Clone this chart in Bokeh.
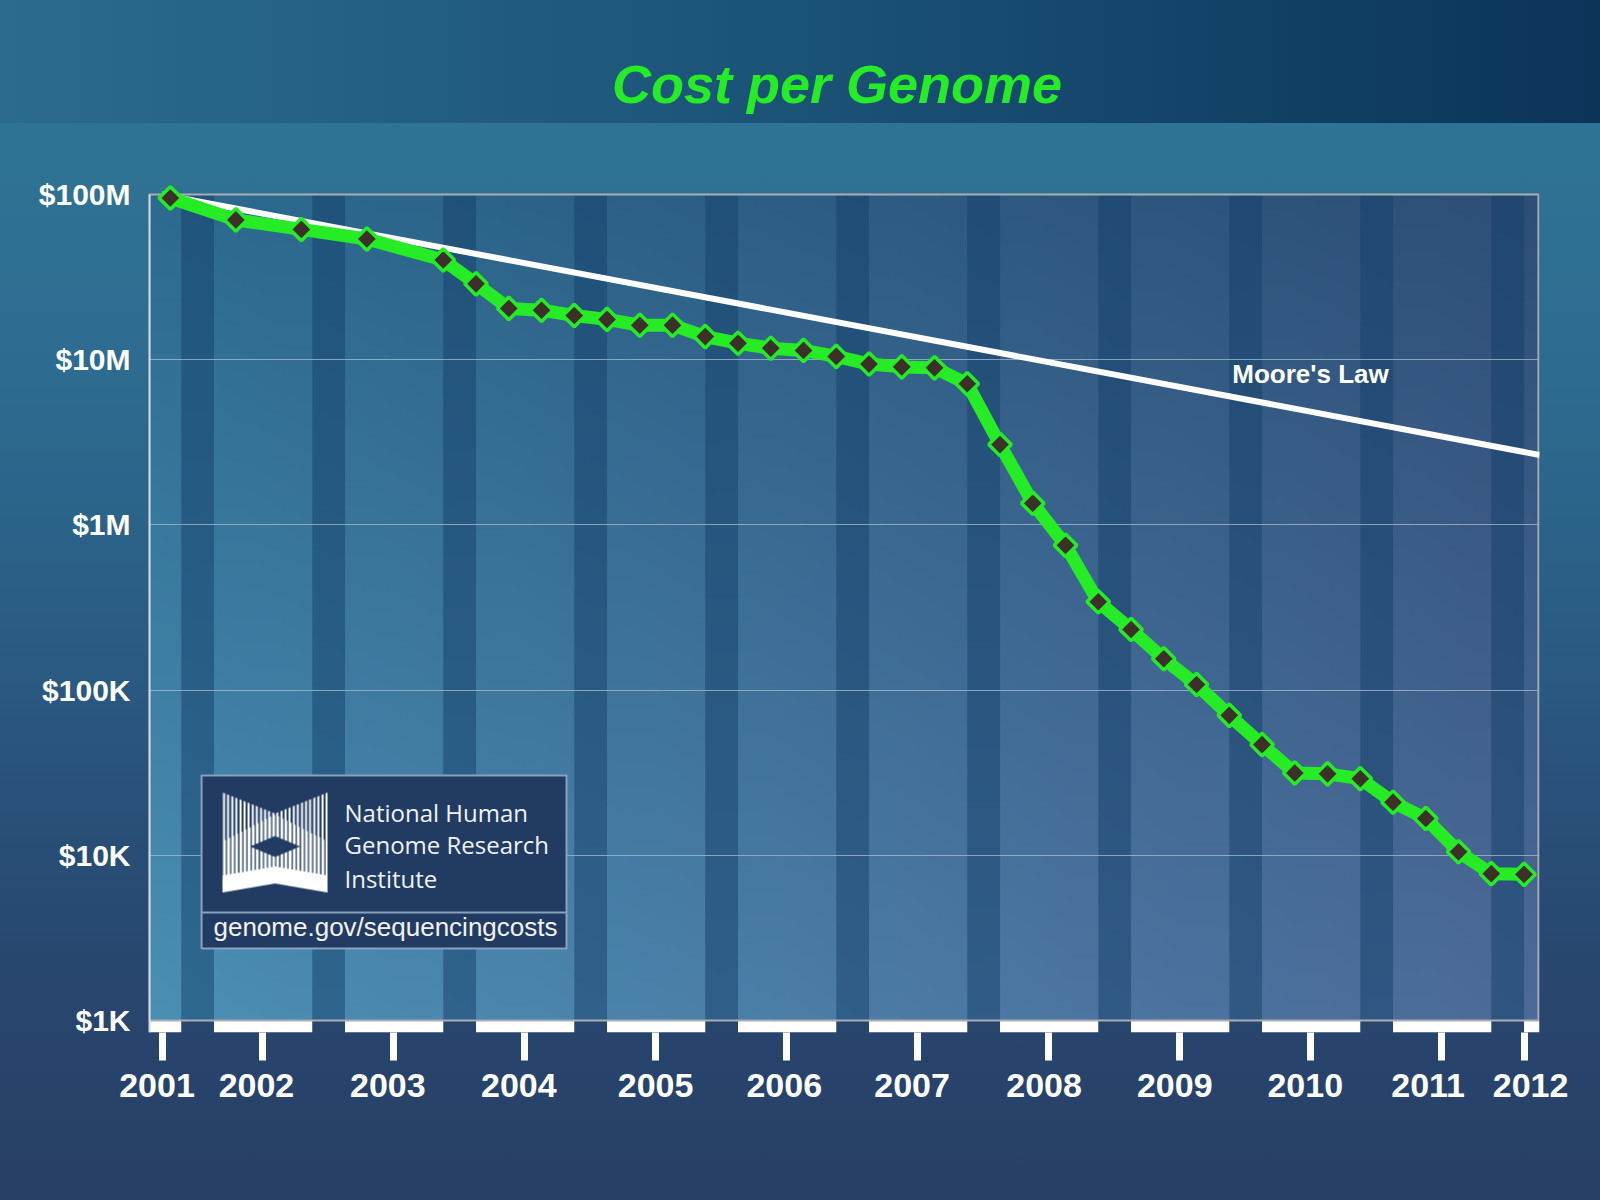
import numpy as np
from bokeh.plotting import figure
from bokeh.models import FixedTicker, Range1d, LinearAxis
from bokeh.core.properties import value
from bokeh.embed import file_html
from bokeh.resources import INLINE

# ---------------- data ----------------
dates = ["2001-09", "2002-03", "2002-09", "2003-03", "2003-10",
         "2004-01", "2004-04", "2004-07", "2004-10",
         "2005-01", "2005-04", "2005-07", "2005-10",
         "2006-01", "2006-04", "2006-07", "2006-10",
         "2007-01", "2007-04", "2007-07", "2007-10",
         "2008-01", "2008-04", "2008-07", "2008-10",
         "2009-01", "2009-04", "2009-07", "2009-10",
         "2010-01", "2010-04", "2010-07", "2010-10",
         "2011-01", "2011-04", "2011-07", "2011-10",
         "2012-01"]
cost_per_genome = [95263072, 70175437, 61448422, 53751684, 40157554,
                   28780376, 20442576, 19934346, 18519312,
                   17534970, 16159699, 16180224, 13801124,
                   12585659, 11741135, 11380826, 10474705,
                   9408739, 9047003, 8927342, 7147571,
                   3063820, 1352982, 752080, 342502,
                   232735, 154714, 108065, 70333,
                   46774, 31512, 31125, 29092,
                   20963, 16712, 10497, 7743,
                   7666]
moore_x = [2001.6, 2012.12]
moore_y = [1.0e8, 2.65e6]

year_labels = ["2001", "2002", "2003", "2004", "2005", "2006",
               "2007", "2008", "2009", "2010", "2011", "2012"]
year_tick_pos = [2001.61, 2002.37, 2003.37, 2004.37, 2005.37, 2006.37,
                 2007.37, 2008.37, 2009.37, 2010.37, 2011.37, 2012.0]
year_label_pos = [2001.565, 2002.324, 2003.327, 2004.327, 2005.371, 2006.353,
                  2007.329, 2008.336, 2009.334, 2010.330, 2011.268, 2012.050]
cost_ticks = [1e3, 1e4, 1e5, 1e6, 1e7, 1e8]
cost_labels = ["$1K", "$10K", "$100K", "$1M", "$10M", "$100M"]

t = [int(d[:4]) + (int(d[5:]) - 1) / 12 for d in dates]

# ---------------- styling ----------------
GREEN = "#26ec26"
X0, X1 = 2001.5, 2012.118
Y0, Y1 = 846.0, 10 ** (8 + 194 / 165.2)   # frame reaches the top of the canvas

W, H = 1600, 1200
p = figure(width=W, height=H, output_backend="svg", toolbar_location=None, title=None,
           x_range=Range1d(X0, X1), y_range=Range1d(Y0, Y1), y_axis_type="log",
           min_border_left=148, min_border_right=61, min_border_top=0, min_border_bottom=168)
p.background_fill_alpha = 0
p.border_fill_alpha = 0
p.outline_line_color = None
p.styles = {
    "background-image": ("linear-gradient(to right, #2b6b8d 0%, #1c5579 45%, #0b3459 100%), "
                         "linear-gradient(to bottom, #2f7797 0%, #2d6c90 30%, #2a5a82 55%, "
                         "#28476f 80%, #283f67 100%)"),
    "background-size": "100% 123px, 100% 100%",
    "background-repeat": "no-repeat",
}

# plot-area gradient background
def rgb(h):
    return np.array([int(h[i:i + 2], 16) for i in (1, 3, 5)], dtype=float)

TL, TR, BL, BR = rgb("#2c6a8f"), rgb("#2e4e77"), rgb("#4b8fb5"), rgb("#4d6a98")
ny, nx = 170, 280
u = np.linspace(0, 1, nx)[None, :, None]
v = np.linspace(0, 1, ny)[:, None, None]
col = BL * (1 - u) * (1 - v) + BR * u * (1 - v) + TL * (1 - u) * v + TR * u * v
bg = np.empty((ny, nx), dtype=np.uint32)
bv = bg.view(dtype=np.uint8).reshape((ny, nx, 4))
bv[..., :3] = np.clip(col, 0, 255).astype(np.uint8)
bv[..., 3] = 255
p.image_rgba(image=[bg], x=X0, y=1e3, dw=X1 - X0, dh=1e8 - 1e3, level="image")

years_mid = list(range(2002, 2013))
p.quad(left=[y - 0.25 for y in years_mid], right=years_mid, bottom=1e3, top=1e8,
       fill_color="#14406a", fill_alpha=0.5, line_color=None, level="image")

# white blocks below the plot area
p.quad(left=[X0] + years_mid, right=[y + 0.75 for y in range(2001, 2012)] + [X1],
       bottom=Y0, top=1e3, fill_color="white", line_color=None)

# plot border
p.quad(left=X0, right=X1 - 0.008, bottom=1e3, top=1e8, fill_color=None,
       line_color="#a9aeb3", line_width=2)
p.segment(x0=X0 + 0.008, y0=Y0, x1=X0 + 0.008, y1=1e8, line_color="#d5dde5", line_width=2)

# grid
p.xgrid.visible = False
p.ygrid.ticker = FixedTicker(ticks=[1e4, 1e5, 1e6, 1e7])
p.ygrid.grid_line_color = "#a7bfd0"
p.ygrid.grid_line_alpha = 0.75
p.ygrid.grid_line_width = 1

# x axis: tick marks
xa = p.xaxis[0]
xa.ticker = FixedTicker(ticks=year_tick_pos)
xa.major_label_overrides = {pos: "" for pos in year_tick_pos}
xa.major_label_text_font_size = "1px"
xa.major_label_standoff = 0
xa.axis_line_color = None
xa.major_tick_line_color = "white"
xa.major_tick_line_width = 7
xa.major_tick_out = 28
xa.major_tick_in = 0
xa.minor_tick_line_color = None

# x axis: year labels
xl = LinearAxis(ticker=FixedTicker(ticks=year_label_pos),
                major_label_overrides={pos: lab for pos, lab in zip(year_label_pos, year_labels)},
                axis_line_color=None, major_tick_line_color=None, minor_tick_line_color=None,
                major_tick_out=0, major_tick_in=0,
                major_label_text_font="Liberation Sans", major_label_text_font_style="bold",
                major_label_text_font_size="34px", major_label_text_color="white",
                major_label_standoff=13)
p.add_layout(xl, "below")

ya = p.yaxis[0]
ya.ticker = FixedTicker(ticks=cost_ticks)
ya.major_label_overrides = {tk: lab for tk, lab in zip(cost_ticks, cost_labels)}
ya.axis_line_color = None
ya.major_tick_line_color = None
ya.major_tick_out = 0
ya.major_tick_in = 0
ya.minor_tick_line_color = None
ya.major_label_text_font = "Liberation Sans"
ya.major_label_text_font_style = "bold"
ya.major_label_text_font_size = "30px"
ya.major_label_text_color = "white"
ya.major_label_standoff = 18

# series
p.line(moore_x, moore_y, line_color="white", line_width=6)
p.line(t, cost_per_genome, line_color=GREEN, line_width=13, line_join="round")
p.scatter(t, cost_per_genome, marker="square", size=16, angle=np.pi / 4,
          fill_color="#3d3028", line_color=GREEN, line_width=3.5)

p.text(x=[2010.37], y=[8.25e6], text=["Moore's Law"], text_font=value("Liberation Sans"),
       text_font_style="bold", text_font_size="26px", text_color="white",
       text_align="center", text_baseline="middle")

# title
p.text(x=[2006.756], y=[4.68e8], text=["Cost per Genome"], text_font=value("Liberation Sans"),
       text_font_style="bold italic", text_font_size="54px", text_color=GREEN,
       text_align="center", text_baseline="middle")

# NHGRI logo box
LB_L, LB_R, LB_B, LB_T, LB_SEP = 2001.905, 2004.691, 2.73e3, 3.04e4, 4.5e3
p.quad(left=LB_L, right=LB_R, bottom=LB_B, top=LB_T, fill_color="#223b63",
       line_color="#8aa1bd", line_width=2)
p.segment(x0=LB_L, y0=LB_SEP, x1=LB_R, y1=LB_SEP, line_color="#8aa1bd", line_width=2)
p.text(x=[2002.996] * 3, y=[18.24e3, 11.59e3, 7.24e3],
       text=["National Human", "Genome Research", "Institute"],
       text_font=value("Open Sans"), text_font_size="24px", text_color="#eef2f7",
       text_align="left", text_baseline="alphabetic")
p.text(x=[2003.309], y=[3.66e3], text=["genome.gov/sequencingcosts"],
       text_font=value("Liberation Sans"), text_font_size="26px", text_color="#f2f2f2",
       text_align="center", text_baseline="alphabetic")

# logo icon (striped X), supersampled
LW, LH, SS = 105, 100, 4
uu, vv = np.meshgrid((np.arange(LW * SS) + 0.5) / SS, (np.arange(LH * SS) + 0.5) / SS)
dd = np.abs(uu - 52.5) / 52.5
vtop = 21 * (1 - dd)
leg_top = 74 + 9 * dd
leg_bot = 91 + 9 * dd
bright = 22 + 27 * dd
diamond = (np.abs(uu - 52.5) / 25 + np.abs(vv - 54) / 10.5) <= 1
ph = (uu - 0.5) % 4.1
stripe_w = np.where(vv >= bright, 2.8, 2.0)
striped = (vv >= vtop) & (vv < leg_top) & ~diamond & (ph < stripe_w)
legs = (vv >= leg_top) & (vv <= leg_bot)
m = (striped | legs).astype(float)
alpha = m.reshape(LH, SS, LW, SS).mean(axis=(1, 3))[::-1]
logo = np.zeros((LH, LW), dtype=np.uint32)
lv = logo.view(dtype=np.uint8).reshape((LH, LW, 4))
lv[..., :3] = 255
lv[..., 3] = np.clip(alpha * 255, 0, 255).astype(np.uint8)
p.image_rgba(image=[logo], x=2002.065, y=5954, dw=LW / 131, dh=23996 - 5954)

open("out.html", "w").write(file_html(p, INLINE))
